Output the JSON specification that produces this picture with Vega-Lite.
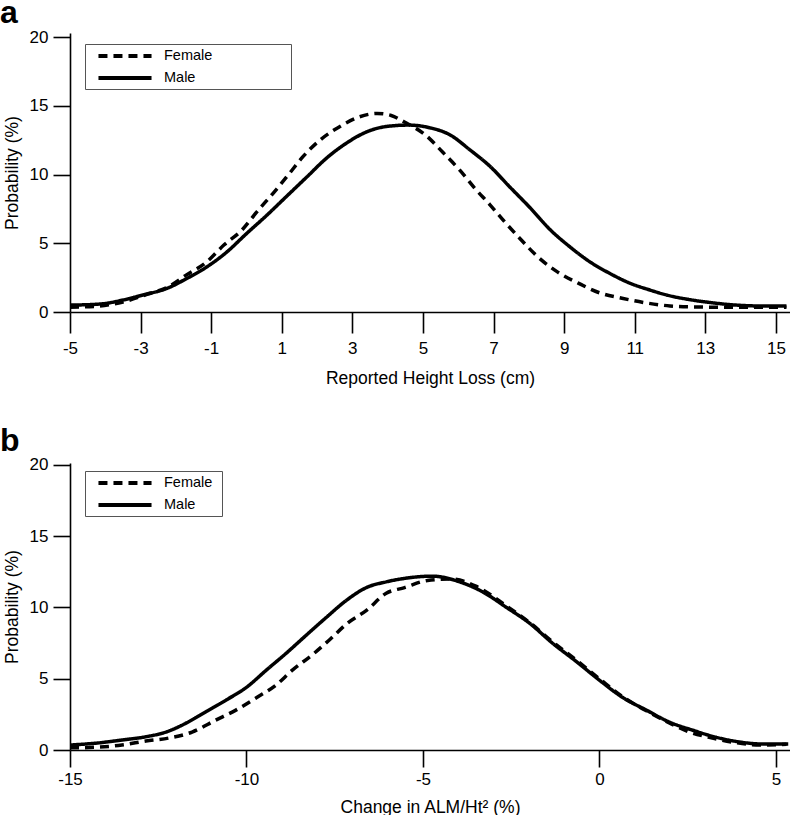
{
  "$schema": "https://vega.github.io/schema/vega-lite/v6.json",
  "background": "white",
  "padding": {"left": 0, "top": -3, "right": 0, "bottom": 0},
  "spacing": 151,
  "bounds": "flush",
  "config": {
    "view": {"stroke": null},
    "font": "Liberation Sans",
    "axis": {"domainColor": "black", "domainWidth": 1.6, "tickColor": "black", "tickWidth": 1.6, "labelColor": "black", "titleColor": "black", "labelFont": "Liberation Sans", "titleFont": "Liberation Sans", "labelFontSize": 17, "titleFontSize": 17.5, "titleFontWeight": "normal", "grid": false, "labelFlush": false, "labelOverlap": false, "labelExpr": "'' + datum.value"},
    "axisX": {"tickSize": 21, "labelPadding": 7, "titlePadding": 13},
    "axisY": {"tickSize": 17, "labelPadding": 5, "titlePadding": 8},
    "legend": {"orient": "none", "legendX": 15, "strokeColor": "#555555", "strokeWidth": 1, "padding": 3, "rowPadding": 5, "symbolType": "M-4,0H4", "symbolSize": 176, "symbolStrokeWidth": 4, "symbolStrokeColor": "black", "symbolOffset": 28, "labelOffset": 30, "labelFont": "Liberation Sans", "labelFontSize": 14.5, "labelColor": "black", "fillColor": "white", "titleOrient": "right", "titleFontSize": 10, "titleColor": "white"},
    "title": {"anchor": "start", "frame": "group", "fontSize": 32, "fontWeight": "bold", "font": "Liberation Sans", "color": "black", "dx": -70, "baseline": "alphabetic", "offset": -2}
  },
  "datasets": {
    "a": [
      {"sex": "Female", "x": -5, "y": 0.35}, {"sex": "Female", "x": -4.15, "y": 0.44}, {"sex": "Female", "x": -3.5, "y": 0.73}, {"sex": "Female", "x": -2.8, "y": 1.3}, {"sex": "Female", "x": -2.22, "y": 1.82}, {"sex": "Female", "x": -1.7, "y": 2.7}, {"sex": "Female", "x": -1.13, "y": 3.64}, {"sex": "Female", "x": -0.64, "y": 4.87}, {"sex": "Female", "x": -0.13, "y": 5.96}, {"sex": "Female", "x": 0.33, "y": 7.4}, {"sex": "Female", "x": 0.76, "y": 8.65}, {"sex": "Female", "x": 1.18, "y": 9.96}, {"sex": "Female", "x": 1.6, "y": 11.3}, {"sex": "Female", "x": 2.08, "y": 12.5}, {"sex": "Female", "x": 2.65, "y": 13.5}, {"sex": "Female", "x": 3.2, "y": 14.2}, {"sex": "Female", "x": 3.7, "y": 14.45}, {"sex": "Female", "x": 4.1, "y": 14.3}, {"sex": "Female", "x": 4.49, "y": 13.8}, {"sex": "Female", "x": 5.06, "y": 12.9}, {"sex": "Female", "x": 5.57, "y": 11.6}, {"sex": "Female", "x": 6.05, "y": 10.3}, {"sex": "Female", "x": 6.47, "y": 9.0}, {"sex": "Female", "x": 6.9, "y": 7.8}, {"sex": "Female", "x": 7.32, "y": 6.55}, {"sex": "Female", "x": 7.8, "y": 5.2}, {"sex": "Female", "x": 8.26, "y": 4.0}, {"sex": "Female", "x": 8.82, "y": 2.9}, {"sex": "Female", "x": 9.4, "y": 2.1}, {"sex": "Female", "x": 10.0, "y": 1.4}, {"sex": "Female", "x": 10.64, "y": 1.0}, {"sex": "Female", "x": 11.35, "y": 0.65}, {"sex": "Female", "x": 12.0, "y": 0.44}, {"sex": "Female", "x": 12.65, "y": 0.37}, {"sex": "Female", "x": 13.3, "y": 0.35}, {"sex": "Female", "x": 14.0, "y": 0.35}, {"sex": "Female", "x": 15.3, "y": 0.35},
      {"sex": "Male", "x": -5, "y": 0.5}, {"sex": "Male", "x": -4.15, "y": 0.58}, {"sex": "Male", "x": -3.5, "y": 0.87}, {"sex": "Male", "x": -2.93, "y": 1.24}, {"sex": "Male", "x": -2.25, "y": 1.72}, {"sex": "Male", "x": -1.69, "y": 2.44}, {"sex": "Male", "x": -1.13, "y": 3.27}, {"sex": "Male", "x": -0.56, "y": 4.36}, {"sex": "Male", "x": 0, "y": 5.7}, {"sex": "Male", "x": 0.56, "y": 7.0}, {"sex": "Male", "x": 1.13, "y": 8.4}, {"sex": "Male", "x": 1.7, "y": 9.8}, {"sex": "Male", "x": 2.27, "y": 11.2}, {"sex": "Male", "x": 2.84, "y": 12.3}, {"sex": "Male", "x": 3.4, "y": 13.1}, {"sex": "Male", "x": 3.97, "y": 13.5}, {"sex": "Male", "x": 4.6, "y": 13.6}, {"sex": "Male", "x": 5.2, "y": 13.4}, {"sex": "Male", "x": 5.76, "y": 12.9}, {"sex": "Male", "x": 6.33, "y": 11.8}, {"sex": "Male", "x": 6.9, "y": 10.6}, {"sex": "Male", "x": 7.46, "y": 9.1}, {"sex": "Male", "x": 8.03, "y": 7.6}, {"sex": "Male", "x": 8.6, "y": 6.0}, {"sex": "Male", "x": 9.16, "y": 4.75}, {"sex": "Male", "x": 9.73, "y": 3.65}, {"sex": "Male", "x": 10.3, "y": 2.8}, {"sex": "Male", "x": 10.86, "y": 2.1}, {"sex": "Male", "x": 11.43, "y": 1.6}, {"sex": "Male", "x": 11.9, "y": 1.24}, {"sex": "Male", "x": 12.56, "y": 0.9}, {"sex": "Male", "x": 13.2, "y": 0.67}, {"sex": "Male", "x": 13.9, "y": 0.5}, {"sex": "Male", "x": 14.55, "y": 0.44}, {"sex": "Male", "x": 15.3, "y": 0.44}
    ],
    "b": [
      {"sex": "Female", "x": -15, "y": 0.15}, {"sex": "Female", "x": -14.18, "y": 0.2}, {"sex": "Female", "x": -13.53, "y": 0.35}, {"sex": "Female", "x": -12.85, "y": 0.63}, {"sex": "Female", "x": -12.2, "y": 0.84}, {"sex": "Female", "x": -11.54, "y": 1.26}, {"sex": "Female", "x": -10.87, "y": 2.1}, {"sex": "Female", "x": -10.3, "y": 2.8}, {"sex": "Female", "x": -9.73, "y": 3.65}, {"sex": "Female", "x": -9.16, "y": 4.56}, {"sex": "Female", "x": -8.7, "y": 5.6}, {"sex": "Female", "x": -8.14, "y": 6.67}, {"sex": "Female", "x": -7.66, "y": 7.7}, {"sex": "Female", "x": -7.14, "y": 8.9}, {"sex": "Female", "x": -6.6, "y": 9.8}, {"sex": "Female", "x": -6.04, "y": 11.0}, {"sex": "Female", "x": -5.52, "y": 11.4}, {"sex": "Female", "x": -4.87, "y": 11.9}, {"sex": "Female", "x": -4.2, "y": 12.0}, {"sex": "Female", "x": -3.5, "y": 11.5}, {"sex": "Female", "x": -2.63, "y": 10.1}, {"sex": "Female", "x": -1.98, "y": 8.95}, {"sex": "Female", "x": -1.33, "y": 7.6}, {"sex": "Female", "x": -0.65, "y": 6.3}, {"sex": "Female", "x": 0, "y": 5.0}, {"sex": "Female", "x": 0.65, "y": 3.75}, {"sex": "Female", "x": 1.33, "y": 2.75}, {"sex": "Female", "x": 1.98, "y": 1.9}, {"sex": "Female", "x": 2.55, "y": 1.26}, {"sex": "Female", "x": 3.2, "y": 0.84}, {"sex": "Female", "x": 3.9, "y": 0.5}, {"sex": "Female", "x": 4.55, "y": 0.35}, {"sex": "Female", "x": 5.3, "y": 0.4},
      {"sex": "Male", "x": -15, "y": 0.35}, {"sex": "Male", "x": -14.18, "y": 0.5}, {"sex": "Male", "x": -13.53, "y": 0.7}, {"sex": "Male", "x": -12.85, "y": 0.93}, {"sex": "Male", "x": -12.28, "y": 1.26}, {"sex": "Male", "x": -11.7, "y": 1.9}, {"sex": "Male", "x": -11.14, "y": 2.7}, {"sex": "Male", "x": -10.58, "y": 3.5}, {"sex": "Male", "x": -10.0, "y": 4.4}, {"sex": "Male", "x": -9.44, "y": 5.6}, {"sex": "Male", "x": -8.87, "y": 6.8}, {"sex": "Male", "x": -8.3, "y": 8.07}, {"sex": "Male", "x": -7.74, "y": 9.3}, {"sex": "Male", "x": -7.17, "y": 10.5}, {"sex": "Male", "x": -6.6, "y": 11.4}, {"sex": "Male", "x": -6.04, "y": 11.8}, {"sex": "Male", "x": -5.5, "y": 12.05}, {"sex": "Male", "x": -4.73, "y": 12.2}, {"sex": "Male", "x": -3.96, "y": 11.8}, {"sex": "Male", "x": -3.31, "y": 11.1}, {"sex": "Male", "x": -2.63, "y": 10.0}, {"sex": "Male", "x": -1.98, "y": 8.9}, {"sex": "Male", "x": -1.33, "y": 7.5}, {"sex": "Male", "x": -0.65, "y": 6.2}, {"sex": "Male", "x": 0, "y": 4.9}, {"sex": "Male", "x": 0.65, "y": 3.7}, {"sex": "Male", "x": 1.33, "y": 2.8}, {"sex": "Male", "x": 1.98, "y": 1.96}, {"sex": "Male", "x": 2.63, "y": 1.4}, {"sex": "Male", "x": 3.3, "y": 0.9}, {"sex": "Male", "x": 3.98, "y": 0.56}, {"sex": "Male", "x": 4.63, "y": 0.42}, {"sex": "Male", "x": 5.35, "y": 0.42}
    ]
  },
  "vconcat": [
    {
      "title": {"text": "a"},
      "width": 720,
      "height": 279,
      "data": {"name": "a"},
      "mark": {"type": "line", "interpolate": "monotone", "strokeWidth": 3.5, "color": "black", "clip": true},
      "encoding": {
        "x": {"field": "x", "type": "quantitative", "scale": {"domain": [-5, 15.4], "nice": false, "zero": false}, "axis": {"values": [-5, -3, -1, 1, 3, 5, 7, 9, 11, 13, 15], "title": "Reported Height Loss (cm)"}},
        "y": {"field": "y", "type": "quantitative", "scale": {"domain": [0, 20.3], "nice": false}, "axis": {"values": [0, 5, 10, 15, 20], "title": "Probability (%)"}},
        "strokeDash": {"field": "sex", "type": "nominal", "scale": {"domain": ["Female", "Male"], "range": [[9, 6], [1, 0]]}, "legend": {"legendY": 11, "title": "\u00a0", "titlePadding": 76}}
      }
    },
    {
      "title": {"text": "b"},
      "width": 720,
      "height": 287,
      "data": {"name": "b"},
      "mark": {"type": "line", "interpolate": "monotone", "strokeWidth": 3.5, "color": "black", "clip": true},
      "encoding": {
        "x": {"field": "x", "type": "quantitative", "scale": {"domain": [-15, 5.4], "nice": false, "zero": false}, "axis": {"values": [-15, -10, -5, 0, 5], "title": "Change in ALM/Ht² (%)", "tickSize": 17, "labelPadding": 4, "titlePadding": 11}},
        "y": {"field": "y", "type": "quantitative", "scale": {"domain": [0, 20.14], "nice": false}, "axis": {"values": [0, 5, 10, 15, 20], "title": "Probability (%)"}},
        "strokeDash": {"field": "sex", "type": "nominal", "scale": {"domain": ["Female", "Male"], "range": [[9, 6], [1, 0]]}, "legend": {"legendY": 8, "title": "\u00a0", "titlePadding": 7}}
      }
    }
  ],
  "resolve": {"scale": {"strokeDash": "independent"}, "legend": {"strokeDash": "independent"}}
}
